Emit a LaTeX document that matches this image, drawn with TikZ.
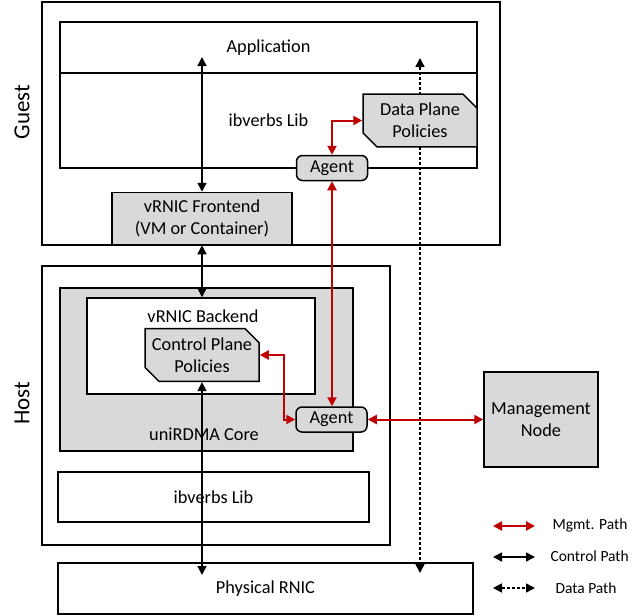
\documentclass[tikz,border=0pt]{standalone}
\usepackage{fontspec}
\setmainfont{Carlito}
\usetikzlibrary{positioning,arrows.meta,shapes.misc}
\definecolor{boxgrey}{HTML}{D9D9D9}
\definecolor{mgmtred}{HTML}{C00000}
\tikzset{
  frame/.style={draw,line width=1.5pt,inner sep=0pt},
  grey/.style={frame,fill=boxgrey},
  policy/.style={grey,chamfered rectangle,chamfered rectangle corners={north east,south west},
    chamfered rectangle xsep=5pt,chamfered rectangle ysep=9pt,minimum width=114,minimum height=50,align=center},
  agentbox/.style={grey,rounded corners=6pt,minimum width=71,minimum height=25},
  ctrl/.style={line width=1.5pt,{Triangle[length=9pt,width=9pt]}-{Triangle[length=9pt,width=9pt]}},
  mgmt/.style={ctrl,draw=mgmtred,line width=2pt},
  data/.style={ctrl,dash pattern=on 3pt off 2pt},
  legend/.style={anchor=west,font=\fontsize{15.5}{18}\selectfont}
}

\begin{document}
\begin{tikzpicture}[x=1pt,y=-1pt,font=\fontsize{18.3}{22}\selectfont]
\useasboundingbox (0,0) rectangle (638,616);
% guest side
\node[frame,minimum width=458,minimum height=243] (guest) at (271,123.5) {};
\node[frame,minimum width=417,minimum height=51] (app) at (268.5,47.5) {Application};
\node[frame,minimum width=417,minimum height=95] (lib) at (268.5,120.5) {ibverbs Lib};
\node[rotate=90,font=\fontsize{23}{27}\selectfont] (guestlbl) at (22,112) {Guest};
% host side
\node[frame,minimum width=348,minimum height=279] (host) at (216,405.5) {};
\node[grey,minimum width=293,minimum height=163] (core) at (206.5,369.5) {};
\node (corelbl) at (204,434) {uniRDMA Core};
\node[frame,fill=white,minimum width=228,minimum height=96] (backend) at (201,346) {};
\node (backendlbl) at (203,316) {vRNIC Backend};
\node[frame,minimum width=311,minimum height=50] (hostlib) at (213.5,497) {ibverbs Lib};
\node[rotate=90,font=\fontsize{23}{27}\selectfont] (hostlbl) at (22,403) {Host};
\node[grey,minimum width=180,minimum height=52,align=center] (frontend) at (202,218.5) {vRNIC Frontend\\(VM or Container)};
\node[frame,fill=white,minimum width=415,minimum height=51] (rnic) at (265.5,588.5) {Physical RNIC};
% data path behind the boxes
\coordinate (dtop) at (420,58);
\coordinate (dbot) at (420,573);
\draw[data] (dtop) -- (dbot);
\node[policy] (dpp) at (420,120.5) {Data Plane\\Policies};
\node[policy] (cpp) at (202,355) {Control Plane\\Policies};
\node[agentbox] (agentg) at (332,168) {Agent};
\node[agentbox] (agenth) at (331.5,419.5) {Agent};
\node[grey,minimum width=114,minimum height=95,align=center] (mgmtnode) at (541,419.5) {Management\\Node};
% control path
\coordinate (apptip) at (202,57);
\coordinate (rnictip) at (202,575);
\draw[ctrl] (apptip) -- (frontend.north);
\draw[ctrl] (frontend.south) -- (frontend.south |- backend.north);
\draw[ctrl] (cpp.south) -- (rnictip);
% management path
\draw[mgmt] (agentg.north) |- (dpp.west);
\draw[mgmt] (agentg.south) -- (agentg.south |- agenth.north);
\draw[mgmt] (cpp.east) -- ++(24,0) |- (agenth.west);
\draw[mgmt] (agenth.east) -- (mgmtnode.west);
% legend
\coordinate (m1) at (493,526); \coordinate (m2) at (535,526);
\coordinate (c1) at (493,557); \coordinate (c2) at (535,557);
\coordinate (d1) at (493,588); \coordinate (d2) at (535,588);
\draw[mgmt] (m1) -- (m2);
\draw[ctrl] (c1) -- (c2);
\draw[data] (d1) -- (d2);
\node[legend] (mlbl) at (549,525) {Mgmt. Path};
\node[legend] (clbl) at (547,556) {Control Path};
\node[legend] (dlbl) at (552,588) {Data Path};
\end{tikzpicture}
\end{document}
